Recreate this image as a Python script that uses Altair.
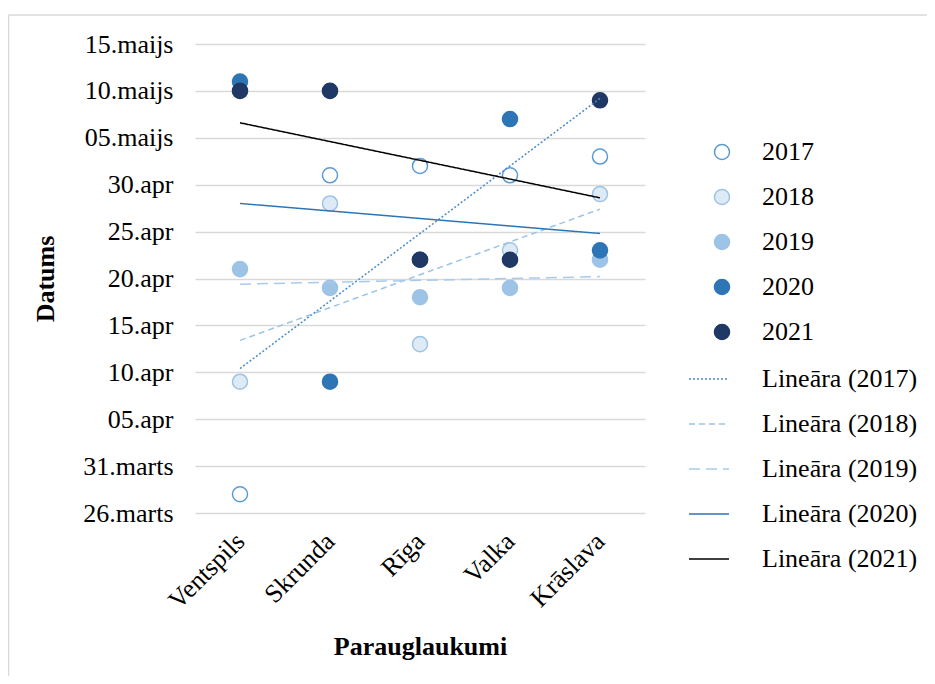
import json
from datetime import date

import altair as alt
import pandas as pd

# ---------------- data ----------------
sites = ["Ventspils", "Skrunda", "Rīga", "Valka", "Krāslava"]
years = ["2017", "2018", "2019", "2020", "2021"]

# dates (month-day), per year, in site order
dates_2017 = ["03-28", "05-01", "05-02", "05-01", "05-03"]
dates_2018 = ["04-09", "04-28", "04-13", "04-23", "04-29"]
dates_2019 = ["04-21", "04-19", "04-18", "04-19", "04-22"]
dates_2020 = ["05-11", "04-09", "04-22", "05-07", "04-23"]
dates_2021 = ["05-10", "05-10", "04-22", "04-22", "05-09"]

y_tick_labels = ["26.marts", "31.marts", "05.apr", "10.apr", "15.apr", "20.apr",
                 "25.apr", "30.apr", "05.maijs", "10.maijs", "15.maijs"]

point_fill = ["#ffffff", "#deebf7", "#9dc3e6", "#2e75b6", "#1f3864"]
point_stroke = ["#5b9bd5", "#9dc3e6", "#9dc3e6", "#2e75b6", "#1f3864"]
trend_color = ["#4a8bd0", "#9dc3e6", "#a9cbea", "#2e75b6", "#000000"]
trend_dash = [[2, 2], [6, 4], [11, 6], [1, 0], [1, 0]]

start = date(2021, 3, 26)
rows = []
for yr, ds in zip(years, [dates_2017, dates_2018, dates_2019, dates_2020, dates_2021]):
    for i, (s, d) in enumerate(zip(sites, ds)):
        m, dd = map(int, d.split("-"))
        rows.append({
            "year": yr,
            "trend": f"Lineāra ({yr})",
            "site": s,
            "idx": i + 1,
            "day": (date(2021, m, dd) - start).days,
        })
df = pd.DataFrame(rows)
trend_names = [f"Lineāra ({y})" for y in years]

FONT = "Liberation Serif"
FS = 26
BORDER = "#d9d9d9"

x_enc = alt.X(
    "idx:Q",
    scale=alt.Scale(domain=[0.5, 5.5], nice=False, zero=False),
    axis=alt.Axis(
        values=[1, 2, 3, 4, 5],
        labelExpr=f"{json.dumps(sites, ensure_ascii=False)}[datum.value - 1]",
        labelAngle=-45, labelAlign="right", labelBaseline="middle",
        labelPadding=24, grid=False, domain=False, ticks=False,
        title="Parauglaukumi", titlePadding=20,
    ),
)
y_enc = alt.Y(
    "day:Q",
    scale=alt.Scale(domain=[0, 50], nice=False, zero=False),
    axis=alt.Axis(
        values=list(range(0, 51, 5)),
        labelExpr=f"{json.dumps(y_tick_labels, ensure_ascii=False)}[datum.value / 5]",
        labelPadding=22, grid=True, gridColor="#d9d9d9", gridWidth=1.5,
        domain=False, ticks=False,
        title="Datums", titlePadding=24,
    ),
)

pt_legend = alt.Legend(title=None, orient="none", legendX=514, legendY=95,
                       symbolType="circle", symbolSize=227, symbolStrokeWidth=1.5,
                       labelOffset=27, rowPadding=19)
ln_legend = alt.Legend(title=None, orient="none", legendX=493, legendY=314,
                       symbolType="stroke", symbolSize=1600, symbolStrokeWidth=1.5,
                       labelOffset=32, rowPadding=11)

points = alt.Chart(df).mark_point(filled=False, size=227, strokeWidth=1.5, opacity=1).encode(
    x=x_enc,
    y=y_enc,
    fill=alt.Fill("year:N", scale=alt.Scale(domain=years, range=point_fill), legend=pt_legend),
    stroke=alt.Stroke("year:N", scale=alt.Scale(domain=years, range=point_stroke), legend=pt_legend),
    order=alt.Order("year:N"),
)

lines = alt.Chart(df).transform_regression(
    "idx", "day", groupby=["trend"]
).mark_line(strokeWidth=1.5).encode(
    x="idx:Q",
    y="day:Q",
    color=alt.Color("trend:N", scale=alt.Scale(domain=trend_names, range=trend_color), legend=ln_legend),
    strokeDash=alt.StrokeDash("trend:N", scale=alt.Scale(domain=trend_names, range=trend_dash), legend=ln_legend),
)

# chart-area frame (top and left edges, as in the source image)
frame_df = pd.DataFrame({"k": [0]})
frame_top = alt.Chart(frame_df).mark_rule(color=BORDER, strokeWidth=1.5, clip=False).encode(
    x=alt.value(-186.5), x2=alt.value(745), y=alt.value(-29)
)
frame_left = alt.Chart(frame_df).mark_rule(color=BORDER, strokeWidth=1.5, clip=False).encode(
    x=alt.value(-186.5), y=alt.value(-29), y2=alt.value(645)
)

chart = alt.layer(frame_top, frame_left, points, lines).properties(
    width=450,
    height=469,
    background="#ffffff",
    autosize=alt.AutoSizeParams(type="none"),
    padding={"left": 187, "top": 36, "right": 282, "bottom": 163},
).configure_view(
    stroke=None
).configure_axis(
    labelFont=FONT, labelFontSize=FS, labelColor="#000000",
    titleFont=FONT, titleFontSize=FS, titleFontWeight="bold", titleColor="#000000",
).configure_legend(
    labelFont=FONT, labelFontSize=FS, labelColor="#000000", padding=0,
)

chart.save("out.html", embed_options={"renderer": "svg", "actions": False})
